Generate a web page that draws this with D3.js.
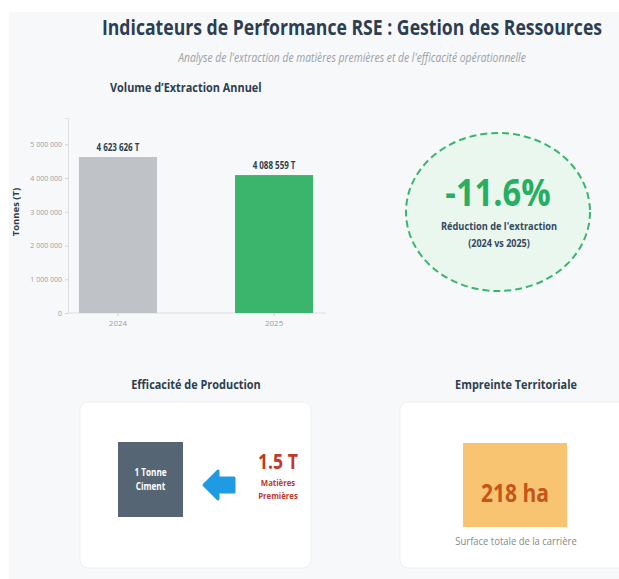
<!DOCTYPE html>
<html>
<head>
<meta charset="utf-8" />
<script src="https://d3js.org/d3.v7.min.js"></script>
<style>
  body { margin: 0; background: #fff; }
  text { font-family: "Open Sans", sans-serif; }
</style>
</head>
<body>
<svg id="chart" width="619" height="579"></svg>
<script>
// data
const years = ["2024", "2025"]
const volumes = [4623626, 4088559]
const barColors = ["#bfc3c8", "#3bb56b"]
const yTicks = [0, 1000000, 2000000, 3000000, 4000000, 5000000]
const tonnesPerCement = 1.5
const surfaceHa = 218

const svg = d3.select("#chart")
const fr = d3.formatLocale({ decimal: ",", thousands: " ", grouping: [3], currency: ["", ""] })
const fmt = fr.format(",")

// text helper, glyphs a bit narrow like the picture
function label(x, y, str, o) {
  o = o || {}
  const sx = o.sx || 0.82
  return svg.append("text")
    .attr("transform", `translate(${x},${y}) scale(${sx},1)`)
    .attr("text-anchor", o.anchor || "middle")
    .attr("font-size", o.size || 12)
    .attr("font-weight", o.weight || "normal")
    .attr("font-style", o.style || "normal")
    .attr("fill", o.fill || "#2c3e50")
    .text(str)
}

// page background
svg.append("rect").attr("x", 9).attr("y", 12).attr("width", 610).attr("height", 567).attr("fill", "#f7f8fa")

label(352, 35, "Indicateurs de Performance RSE : Gestion des Ressources", { size: 20.5, weight: "bold", fill: "#2c3e50", sx: 0.86 })
label(352, 62, "Analyse de l'extraction de matières premières et de l'efficacité opérationnelle", { size: 12, style: "italic", fill: "#9aa0a6", sx: 0.86 })
label(110, 92, "Volume d\u2019Extraction Annuel", { size: 13, weight: "bold", anchor: "start", sx: 0.84 })

// bar chart
const x = d3.scaleBand().domain(years).range([68, 324]).paddingInner(0.5).paddingOuter(0.07)
const y = d3.scaleLinear().domain([0, d3.max(volumes) * 1.25]).range([313, 118])

const yAx = svg.append("g").attr("transform", "translate(68,0)")
  .call(d3.axisLeft(y).tickValues(yTicks).tickFormat(fmt).tickSize(3).tickPadding(3))
yAx.select(".domain").attr("stroke", "#dcdfe3")
yAx.selectAll(".tick line").attr("stroke", "#cfd3d8")
yAx.selectAll(".tick text").attr("fill", "#9aa0a6").attr("font-size", 7).attr("font-family", "Open Sans")

const xAx = svg.append("g").attr("transform", "translate(0,313)")
  .call(d3.axisBottom(x).tickSize(3).tickPadding(4))
xAx.select(".domain").attr("stroke", "#dcdfe3").attr("d", "M68,0H326")
xAx.selectAll(".tick line").attr("stroke", "#cfd3d8")
xAx.selectAll(".tick text").attr("fill", "#9aa0a6").attr("font-size", 8).attr("font-family", "Open Sans")

svg.selectAll("rect.bar").data(volumes).enter().append("rect")
  .attr("class", "bar")
  .attr("x", (d, i) => x(years[i]))
  .attr("y", d => y(d))
  .attr("width", x.bandwidth())
  .attr("height", d => y(0) - y(d))
  .attr("fill", (d, i) => barColors[i])

volumes.forEach((d, i) => {
  label(x(years[i]) + x.bandwidth() / 2, y(d) - 6, fmt(d) + " T", { size: 10, weight: "bold", fill: "#2c3e50", sx: 0.8 })
})

svg.append("text")
  .attr("transform", "translate(19,212) rotate(-90)")
  .attr("text-anchor", "middle").attr("font-size", 9.5).attr("font-weight", "bold")
  .attr("fill", "#2c3e50").text("Tonnes (T)")

// reduction badge
const change = (volumes[1] - volumes[0]) / volumes[0] * 100
svg.append("ellipse").attr("cx", 498).attr("cy", 212).attr("rx", 92).attr("ry", 79)
  .attr("fill", "#eaf7ef").attr("stroke", "#3bb56b").attr("stroke-width", 2).attr("stroke-dasharray", "7,4")
label(498, 206, change.toFixed(1) + "%", { size: 38, weight: "bold", fill: "#27ae60", sx: 0.86 })
label(499, 230, "Réduction de l'extraction", { size: 11, weight: "bold", fill: "#34495e", sx: 0.84 })
label(499, 247, "(" + years.join(" vs ") + ")", { size: 11, weight: "bold", fill: "#34495e", sx: 0.82 })

// bottom cards
label(196, 389, "Efficacité de Production", { size: 13, weight: "bold", sx: 0.84 })
label(516, 389, "Empreinte Territoriale", { size: 13, weight: "bold", sx: 0.84 })

const cards = [[80, 402, 231, 166], [400, 402, 260, 166]]
svg.selectAll("rect.card").data(cards).enter().append("rect")
  .attr("class", "card")
  .attr("x", d => d[0]).attr("y", d => d[1]).attr("width", d => d[2]).attr("height", d => d[3])
  .attr("rx", 8).attr("fill", "#fff").attr("stroke", "#eef0f2")

svg.append("rect").attr("x", 118).attr("y", 442).attr("width", 65).attr("height", 75).attr("fill", "#566573")
label(150.5, 476, "1 Tonne", { size: 10, weight: "bold", fill: "#fff", sx: 0.82 })
label(150.5, 490, "Ciment", { size: 10, weight: "bold", fill: "#fff", sx: 0.82 })

svg.append("path")
  .attr("d", "M204,485L218,471L218,478L234,478L234,492L218,492L218,499Z")
  .attr("fill", "#1e9be2").attr("stroke", "#1e9be2").attr("stroke-width", 3).attr("stroke-linejoin", "round")

label(278, 469, tonnesPerCement + " T", { size: 21, weight: "bold", fill: "#c0392b", sx: 0.84 })
label(278, 486, "Matières", { size: 9.5, weight: "bold", fill: "#c0392b", sx: 0.82 })
label(278, 499, "Premières", { size: 9.5, weight: "bold", fill: "#c0392b", sx: 0.82 })

svg.append("rect").attr("x", 463).attr("y", 443).attr("width", 104).attr("height", 84).attr("fill", "#f8c471")
label(515, 502, surfaceHa + " ha", { size: 25, weight: "bold", fill: "#c4561a", sx: 0.84 })
label(516, 545, "Surface totale de la carrière", { size: 11, fill: "#7f8c8d", sx: 0.86 })
</script>
</body>
</html>
